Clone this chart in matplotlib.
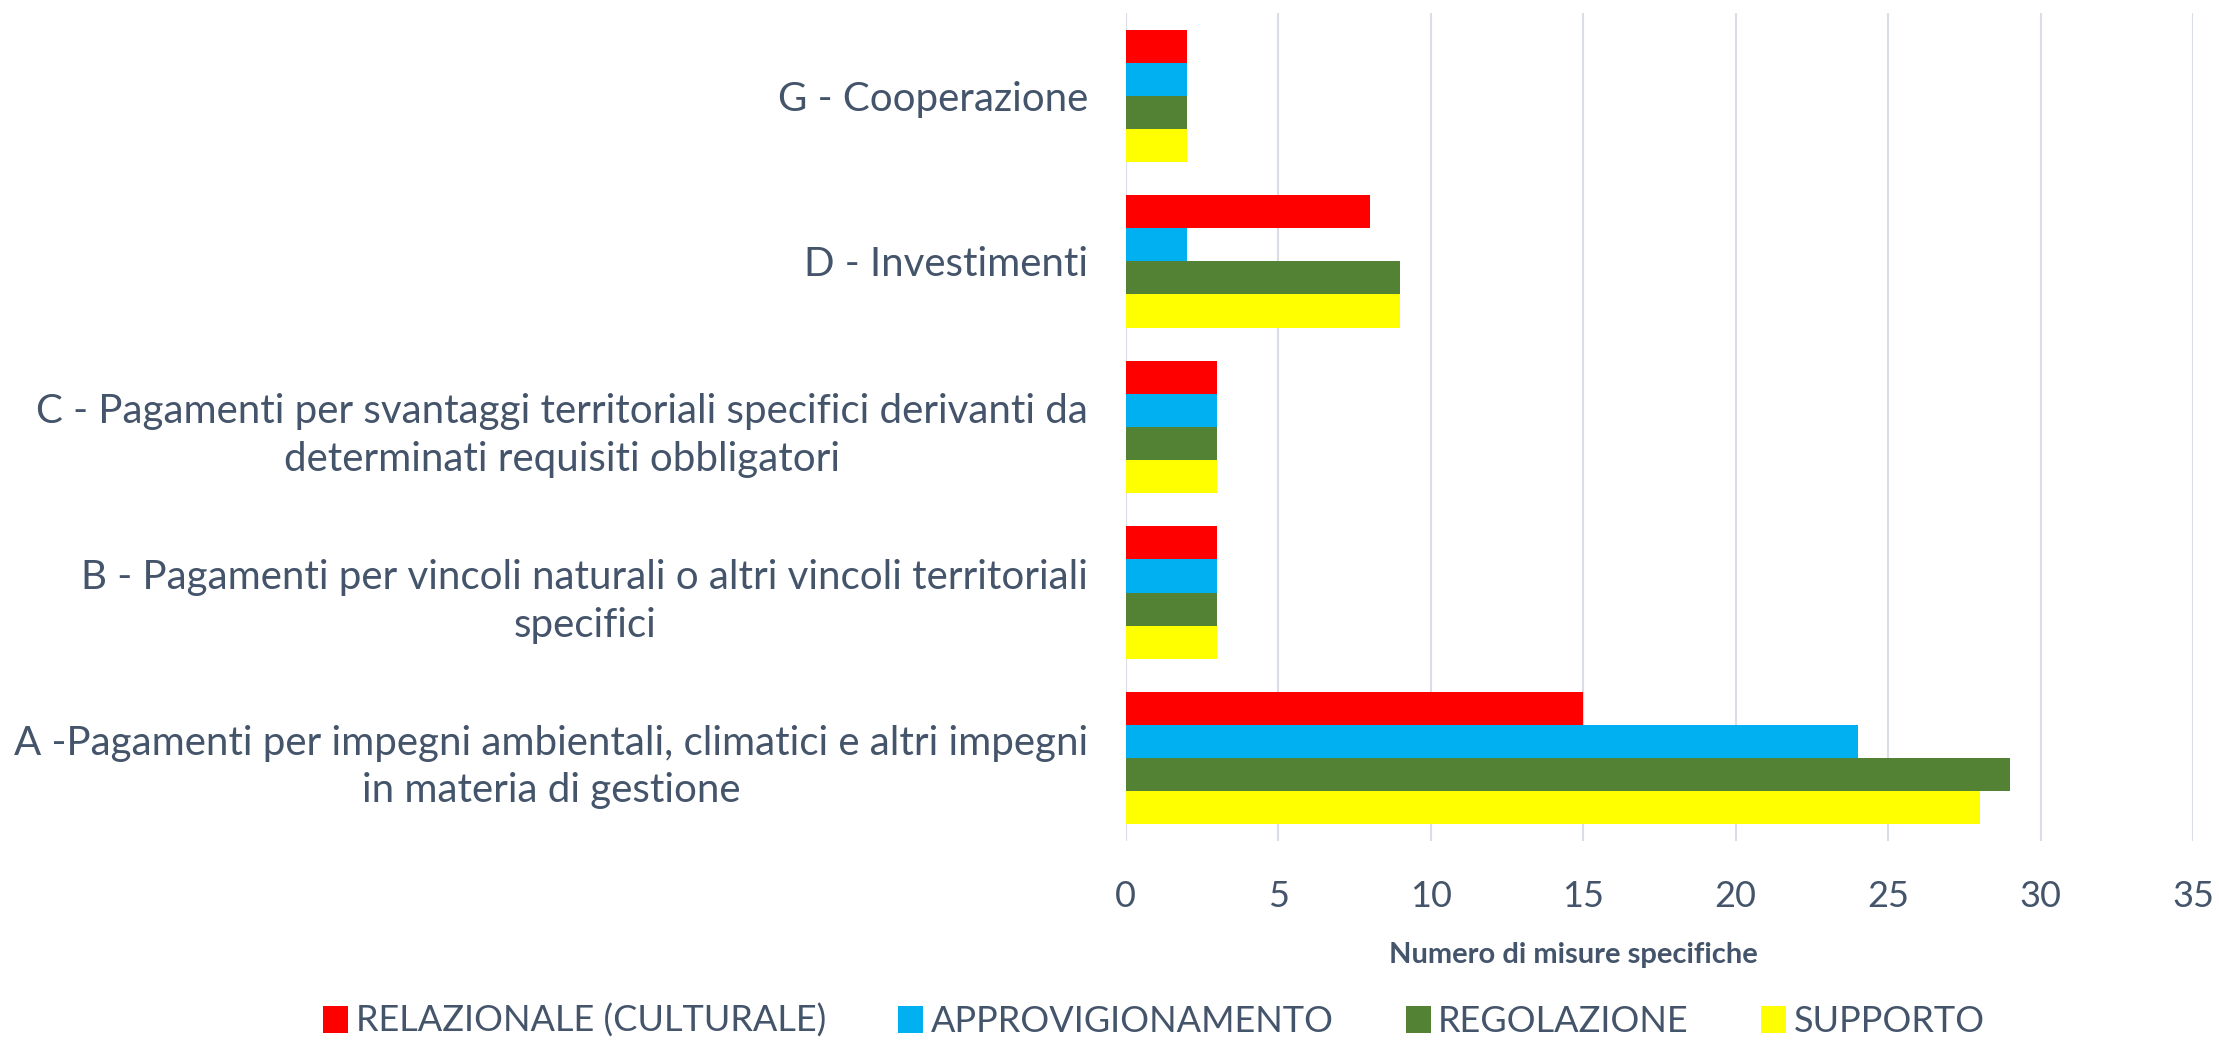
import numpy as np
import matplotlib.pyplot as plt

categories = [
    "G - Cooperazione",
    "D - Investimenti",
    "C - Pagamenti per svantaggi territoriali specifici derivanti da\ndeterminati requisiti obbligatori",
    "B - Pagamenti per vincoli naturali o altri vincoli territoriali\nspecifici",
    "A -Pagamenti per impegni ambientali, climatici e altri impegni\nin materia di gestione",
]
relazionale = [2, 8, 3, 3, 15]
approvvigionamento = [2, 2, 3, 3, 24]
regolazione = [2, 9, 3, 3, 29]
supporto = [2, 9, 3, 3, 28]

series_names = ["RELAZIONALE (CULTURALE)", "APPROVIGIONAMENTO", "REGOLAZIONE", "SUPPORTO"]
series = [relazionale, approvvigionamento, regolazione, supporto]
colors = ["#FF0000", "#00B0F0", "#548235", "#FFFF00"]

text_color = "#44546A"
plt.rcParams['font.family'] = ['Lato', 'DejaVu Sans']

fig = plt.figure(figsize=(22.19, 10.45), dpi=100)
ax = fig.add_axes([0.5073, 0.1952, 0.4810, 0.7924])

y = np.arange(len(categories))
bar_h = 0.2
for i, (vals, name, c) in enumerate(zip(series, series_names, colors)):
    offset = (i - 1.5) * bar_h
    ax.barh(y + offset, vals, height=bar_h, color=c, label=name, zorder=3)

ax.set_ylim(len(categories) - 0.5, -0.5)
ax.set_xlim(0, 35)
ax.set_xticks(np.arange(0, 36, 5))
ax.set_yticks(y)
ax.set_yticklabels(categories, fontsize=29, color=text_color, multialignment='center',
                   linespacing=1.35)
ax.tick_params(axis='y', length=0, pad=27)
ax.tick_params(axis='x', length=0, pad=28, labelsize=26, labelcolor=text_color)
ax.xaxis.grid(True, color="#D9DDE5", linewidth=1.5, zorder=0)
for s in ax.spines.values():
    s.set_visible(False)

ax.set_xlabel("Numero di misure specifiche", fontsize=21, fontweight='bold',
              color=text_color)
ax.xaxis.label.set_va('center')
ax.xaxis.set_label_coords(0.419, -0.1377)

fig.legend(loc='center', bbox_to_anchor=(0.52, 0.023), ncol=4, frameon=False,
           fontsize=26, labelcolor=text_color, handlelength=0.7, handleheight=0.8,
           handletextpad=0.2, columnspacing=2.0)

fig.savefig("out.png", dpi=100, facecolor="white")
